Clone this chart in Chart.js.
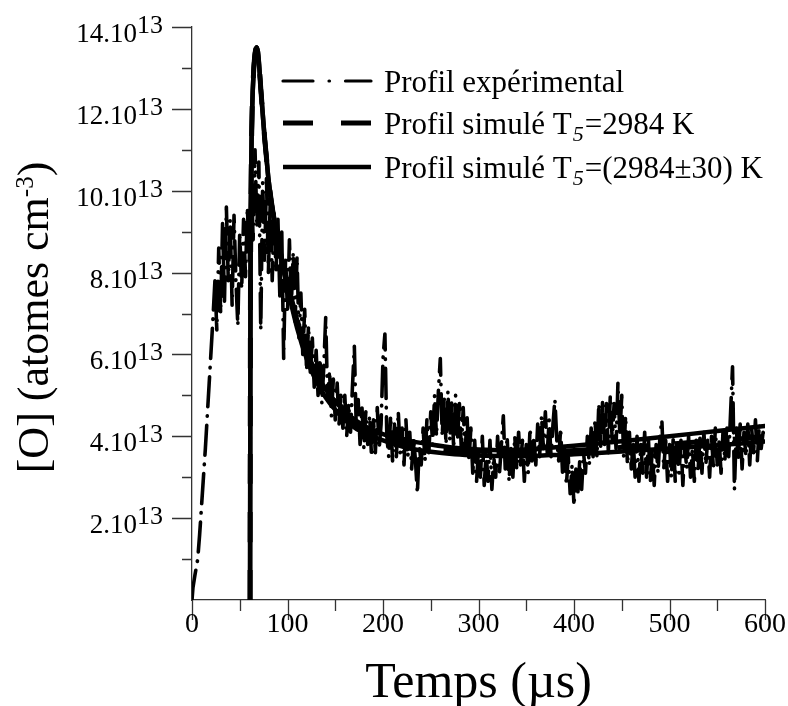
<!DOCTYPE html>
<html>
<head>
<meta charset="utf-8">
<script src="https://cdn.jsdelivr.net/npm/chart.js@4.4.1/dist/chart.umd.min.js"></script>
<style>
  body { margin: 0; background: #fff; }
  canvas { display: block; }
</style>
</head>
<body>
<canvas id="chart" width="788" height="706"></canvas>
<script>
// [O] values are in units of 1e13 atomes cm-3, times in microseconds
const expTime = [0, 1, 3, 6, 8, 10, 12, 14, 16, 18,
  20, 22, 24, 26, 28, 30, 32, 34, 36, 38,
  40, 42, 44, 46, 48, 50, 52, 54, 56, 58,
  60, 62, 64, 66, 68, 70, 72, 74, 76, 78,
  80, 82, 84, 86, 88, 90, 92, 94, 96, 98,
  100, 102, 104, 106, 108, 110, 112, 114, 116, 118,
  120, 122, 124, 126, 128, 130, 132, 134, 136, 138,
  140, 142, 144, 146, 148, 150, 152, 154, 156, 158,
  160, 162, 164, 166, 168, 170, 172, 174, 176, 178,
  180, 182, 184, 186, 188, 190, 192, 194, 196, 198,
  200, 202, 204, 206, 208, 210, 212, 214, 216, 218,
  220, 222, 224, 226, 228, 230, 232, 234, 236, 238,
  240, 242, 244, 246, 248, 250, 252, 254, 256, 258,
  260, 262, 264, 266, 268, 270, 272, 274, 276, 278,
  280, 282, 284, 286, 288, 290, 292, 294, 296, 298,
  300, 302, 304, 306, 308, 310, 312, 314, 316, 318,
  320, 322, 324, 326, 328, 330, 332, 334, 336, 338,
  340, 342, 344, 346, 348, 350, 352, 354, 356, 358,
  360, 362, 364, 366, 368, 370, 372, 374, 376, 378,
  380, 382, 384, 386, 388, 390, 392, 394, 396, 398,
  400, 402, 404, 406, 408, 410, 412, 414, 416, 418,
  420, 422, 424, 426, 428, 430, 432, 434, 436, 438,
  440, 442, 444, 446, 448, 450, 452, 454, 456, 458,
  460, 462, 464, 466, 468, 470, 472, 474, 476, 478,
  480, 482, 484, 486, 488, 490, 492, 494, 496, 498,
  500, 502, 504, 506, 508, 510, 512, 514, 516, 518,
  520, 522, 524, 526, 528, 530, 532, 534, 536, 538,
  540, 542, 544, 546, 548, 550, 552, 554, 556, 558,
  560, 562, 564, 566, 568, 570, 572, 574, 576, 578,
  580, 582, 584, 586, 588, 590, 592, 594, 596, 598,
  600];
const expO = [0, 0.3, 0.6, 1.0, 1.6, 2.3, 3.0, 3.7, 4.5, 5.3,
  6.1, 6.9, 7.8, 6.6, 8.6, 7.0, 9.2, 7.3, 9.6, 7.8,
  9.3, 7.2, 9.4, 7.8, 6.7, 9.0, 7.6, 9.3, 7.9, 9.6,
  8.3, 10.6, 8.8, 11.0, 9.1, 10.7, 6.6, 10.2, 8.3, 10.3,
  8.0, 9.8, 7.8, 9.5, 8.0, 9.3, 7.4, 9.0, 5.9, 8.4,
  7.0, 8.8, 7.2, 8.5, 6.8, 8.4, 6.4, 7.5, 6.0, 7.1,
  5.6, 6.7, 5.5, 6.4, 5.2, 6.1, 5.0, 5.9, 4.8, 5.7,
  6.9, 4.9, 5.6, 4.5, 5.4, 4.4, 5.3, 4.3, 5.1, 4.2,
  5.0, 4.0, 4.8, 4.1, 5.2, 6.2, 4.2, 4.9, 3.8, 4.7,
  3.7, 4.6, 3.8, 4.5, 3.5, 4.4, 3.6, 4.7, 3.7, 4.3,
  5.9, 6.5, 4.0, 3.5, 4.5, 3.4, 4.3, 3.5, 4.6, 3.6,
  4.2, 3.3, 4.4, 3.5, 4.1, 3.2, 4.0, 3.4, 2.6, 3.8,
  3.3, 4.2, 3.4, 4.4, 3.6, 4.6, 3.8, 5.0, 4.0, 5.1,
  5.9, 4.0, 5.0, 3.8, 5.1, 3.9, 4.9, 3.7, 5.0, 3.9,
  4.8, 3.7, 4.7, 3.6, 4.5, 3.4, 4.2, 3.1, 3.9, 2.9,
  3.7, 3.0, 4.0, 2.8, 3.6, 2.9, 3.9, 2.7, 3.5, 3.0,
  4.0, 3.1, 3.8, 4.5, 3.2, 4.0, 2.9, 3.7, 3.0, 4.0,
  3.2, 4.1, 3.3, 3.9, 2.9, 3.8, 3.1, 4.2, 3.4, 4.0,
  3.3, 4.3, 3.5, 4.5, 3.7, 4.6, 3.6, 4.4, 3.5, 4.3,
  4.9, 3.9, 3.4, 4.2, 3.1, 3.7, 2.8, 3.5, 2.6, 3.3,
  2.3, 3.2, 2.6, 3.4, 2.7, 3.6, 3.1, 4.0, 3.3, 4.2,
  3.5, 4.4, 3.5, 4.8, 3.7, 4.9, 3.8, 4.8, 3.6, 5.0,
  3.9, 4.8, 3.7, 5.3, 4.0, 5.0, 3.5, 4.5, 3.3, 4.1,
  3.2, 3.9, 3.0, 4.0, 2.9, 3.8, 3.1, 4.1, 3.0, 3.9,
  2.9, 3.7, 2.8, 3.8, 3.1, 4.0, 4.4, 3.2, 3.9, 2.9,
  3.8, 3.0, 4.0, 2.9, 3.7, 3.1, 3.9, 2.8, 3.8, 3.2,
  4.0, 3.0, 3.7, 2.9, 3.9, 3.2, 4.0, 3.1, 4.1, 3.3,
  3.9, 3.0, 4.0, 3.2, 4.2, 3.3, 3.9, 3.1, 4.1, 3.4,
  4.3, 3.5, 4.6, 5.7, 2.7, 4.2, 3.4, 4.3, 3.2, 4.1,
  3.5, 4.3, 3.3, 4.2, 3.6, 4.4, 3.4, 4.3, 3.7, 4.1,
  3.9];

const simTime = [60.8, 61, 61.3, 62, 63, 64.5, 66, 67.5, 69, 70.5, 72, 74, 76, 78, 80, 83, 86, 90, 95, 100,
  110, 120, 130, 140, 150, 165, 180, 200, 225, 250, 275, 300, 325, 350, 375, 400, 450, 500, 550, 600];
// T5 = 2984 K
const simMid = [0, 4, 8, 10.5, 12, 12.9, 13.35, 13.5, 13.4, 13.0, 12.5, 11.9, 11.3, 10.8, 10.3, 9.75, 9.3, 8.8, 8.2, 7.7,
  6.75, 6.0, 5.45, 5.05, 4.75, 4.4, 4.17, 3.97, 3.8, 3.7, 3.63, 3.6, 3.59, 3.6, 3.62, 3.65, 3.73, 3.81, 3.9, 3.98];
// T5 = 2984 +/- 30 K
const simHigh = [0, 4, 8, 10.5, 12, 12.9, 13.35, 13.5, 13.4, 13.0, 12.5, 11.9, 11.3, 10.8, 10.3, 9.75, 9.3, 8.82, 8.25, 7.78,
  6.85, 6.1, 5.55, 5.15, 4.85, 4.5, 4.26, 4.05, 3.9, 3.8, 3.72, 3.68, 3.66, 3.68, 3.72, 3.77, 3.88, 4.0, 4.13, 4.25];
const simLow = [0, 4, 8, 10.5, 12, 12.9, 13.35, 13.5, 13.4, 13.0, 12.5, 11.9, 11.3, 10.8, 10.3, 9.75, 9.3, 8.78, 8.15, 7.62,
  6.65, 5.9, 5.35, 4.95, 4.65, 4.3, 4.08, 3.9, 3.72, 3.62, 3.56, 3.53, 3.52, 3.52, 3.54, 3.56, 3.63, 3.7, 3.78, 3.87];

const xTicks = [0, 100, 200, 300, 400, 500, 600];
const yTicks = [2, 4, 6, 8, 10, 12, 14];
const legendText = [
  ['Profil expérimental', '', ''],
  ['Profil simulé T', '5', '=2984 K'],
  ['Profil simulé T', '5', '=(2984±30) K']
];

const SERIF = '"Liberation Serif", "Times New Roman", serif';

function pts(xs, ys) {
  return xs.map((x, i) => ({ x: x, y: ys[i] }));
}

const decor = {
  id: 'decor',
  afterDraw(chart) {
    const ctx = chart.ctx;
    const xs = chart.scales.x, ys = chart.scales.y;
    const area = chart.chartArea;
    ctx.save();
    ctx.strokeStyle = '#333';
    ctx.lineWidth = 1.3;
    ctx.beginPath();
    for (let v = 0; v <= 600; v += 50) {
      const px = Math.round(xs.getPixelForValue(v)) + 0.5;
      ctx.moveTo(px, area.bottom);
      ctx.lineTo(px, area.bottom + (v % 100 === 0 ? 20 : 11));
    }
    for (let v = 1; v <= 14; v += 1) {
      const py = Math.round(ys.getPixelForValue(v)) + 0.5;
      ctx.moveTo(area.left, py);
      ctx.lineTo(area.left - (v % 2 === 0 ? 20 : 10), py);
    }
    ctx.stroke();

    ctx.fillStyle = '#000';
    // x tick labels
    ctx.font = '28px ' + SERIF;
    ctx.textAlign = 'center';
    ctx.textBaseline = 'alphabetic';
    xTicks.forEach(v => ctx.fillText(String(v), xs.getPixelForValue(v), 632));
    // y tick labels, "N.10" with superscript 13
    ctx.textAlign = 'left';
    yTicks.forEach(v => {
      const py = ys.getPixelForValue(v);
      ctx.font = '27px ' + SERIF;
      const main = v + '.10';
      const wm = ctx.measureText(main).width;
      ctx.font = '26px ' + SERIF;
      const ws = ctx.measureText('13').width;
      const x0 = 163 - wm - ws;
      ctx.font = '27px ' + SERIF;
      ctx.fillText(main, x0, py + 15);
      ctx.font = '26px ' + SERIF;
      ctx.fillText('13', x0 + wm, py + 6);
    });

    // x title
    ctx.font = '50px ' + SERIF;
    ctx.textAlign = 'center';
    ctx.fillText('Temps (µs)', (area.left + area.right) / 2, 697);

    // y title with cm-3 superscript
    ctx.save();
    ctx.translate(48, (area.top + area.bottom) / 2 + 4);
    ctx.rotate(-Math.PI / 2);
    const p1 = '[O] (atomes cm', p2 = '-3', p3 = ')';
    ctx.font = '44px ' + SERIF;
    const w1 = ctx.measureText(p1).width, w3 = ctx.measureText(p3).width;
    ctx.font = '25px ' + SERIF;
    const w2 = ctx.measureText(p2).width;
    let x = -(w1 + w2 + w3) / 2;
    ctx.textAlign = 'left';
    ctx.font = '44px ' + SERIF;
    ctx.fillText(p1, x, 0);
    x += w1;
    ctx.font = '25px ' + SERIF;
    ctx.fillText(p2, x, -15);
    x += w2;
    ctx.font = '44px ' + SERIF;
    ctx.fillText(p3, x, 0);
    ctx.restore();

    // legend
    const rows = [81, 123, 167];
    const sampleDash = [[30, 16, 0.5, 16], [30, 28], []];
    chart.data.datasets.slice(0, 3).forEach((ds, i) => {
      const y = rows[i];
      ctx.save();
      ctx.strokeStyle = '#000';
      ctx.lineWidth = i === 0 ? 3.2 : ds.borderWidth;
      ctx.lineCap = i === 0 ? 'round' : 'butt';
      ctx.setLineDash(sampleDash[i]);
      ctx.beginPath();
      ctx.moveTo(283, y);
      ctx.lineTo(371, y);
      ctx.stroke();
      ctx.restore();
      const [a, sub, b] = legendText[i];
      ctx.textAlign = 'left';
      ctx.font = '31px ' + SERIF;
      let tx = 384;
      ctx.fillText(a, tx, y + 11);
      tx += ctx.measureText(a).width;
      if (sub) {
        ctx.font = 'italic 22px ' + SERIF;
        ctx.fillText(sub, tx + 1, y + 18);
        tx += ctx.measureText(sub).width + 2;
        ctx.font = '31px ' + SERIF;
        ctx.fillText(b, tx, y + 11);
      }
    });
    ctx.restore();
  }
};

new Chart(document.getElementById('chart'), {
  type: 'line',
  data: {
    datasets: [
      { label: legendText[0][0], data: pts(expTime, expO), borderColor: '#000', borderWidth: 3.6,
        borderDash: [30, 9, 0.5, 9], borderCapStyle: 'round', borderJoinStyle: 'round',
        pointRadius: 0, tension: 0, order: 5 },
      { label: legendText[1].join(''), data: pts(simTime, simMid), borderColor: '#000', borderWidth: 5,
        borderDash: [30, 28], pointRadius: 0, tension: 0.3, order: 1 },
      { label: legendText[2].join(''), data: pts(simTime, simHigh), borderColor: '#000', borderWidth: 4.5,
        borderJoinStyle: 'round', borderCapStyle: 'round', pointRadius: 0, tension: 0.3, order: 2 },
      { label: 'T5 low', data: pts(simTime, simLow), borderColor: '#000', borderWidth: 4.5,
        borderJoinStyle: 'round', borderCapStyle: 'round', pointRadius: 0, tension: 0.3, order: 3 }
    ]
  },
  options: {
    responsive: false,
    animation: false,
    layout: { padding: { top: 27, right: 23, left: 0, bottom: 0 } },
    plugins: { legend: { display: false }, tooltip: { enabled: false } },
    scales: {
      x: {
        type: 'linear', min: 0, max: 600,
        grid: { display: false },
        ticks: { display: false },
        border: { display: true, color: '#333', width: 1.3 },
        afterFit(s) { s.height = 106; }
      },
      y: {
        type: 'linear', min: 0, max: 14,
        grid: { display: false },
        ticks: { display: false },
        border: { display: true, color: '#333', width: 1.3 },
        afterFit(s) { s.width = 192; }
      }
    }
  },
  plugins: [decor]
});
</script>
</body>
</html>
